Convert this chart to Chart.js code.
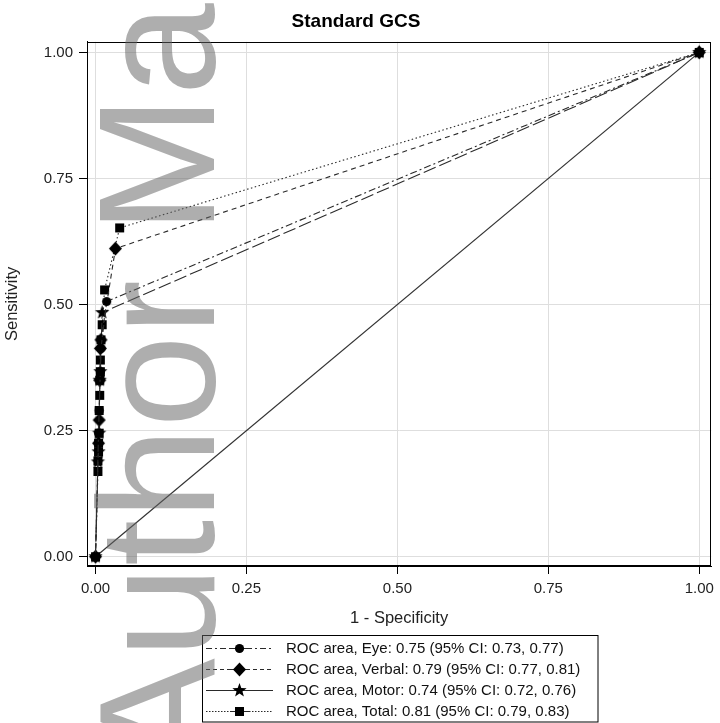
<!DOCTYPE html>
<html>
<head>
<meta charset="utf-8">
<script src="https://cdn.jsdelivr.net/npm/chart.js@4.4.1/dist/chart.umd.min.js"></script>
<style>
html,body{margin:0;padding:0;background:#fff;}
canvas{display:block;}
</style>
</head>
<body>
<canvas id="c" width="720" height="723"></canvas>
<script>
// ---- data ----
const xTicks = [0, 0.25, 0.5, 0.75, 1];
const yTicks = [0, 0.25, 0.5, 0.75, 1];
const seriesNames = ['Eye', 'Verbal', 'Motor', 'Total'];
const aucValues = [0.75, 0.79, 0.74, 0.81];
const ciLow = [0.73, 0.77, 0.72, 0.79];
const ciHigh = [0.77, 0.81, 0.76, 0.83];

const eyeFpr = [0, 0.005, 0.006, 0.008, 0.009, 0.0185, 1];
const eyeTpr = [0, 0.245, 0.29, 0.367, 0.413, 0.506, 1];
const verbalFpr = [0, 0.005, 0.006, 0.007, 0.008, 0.009, 0.033, 1];
const verbalTpr = [0, 0.225, 0.271, 0.35, 0.413, 0.43, 0.611, 1];
const motorFpr = [0, 0.004, 0.005, 0.006, 0.007, 0.008, 0.011, 1];
const motorTpr = [0, 0.188, 0.208, 0.245, 0.35, 0.367, 0.484, 1];
const totalFpr = [0, 0.004, 0.004, 0.005, 0.005, 0.006, 0.006, 0.007, 0.007, 0.008, 0.008, 0.009, 0.011, 0.015, 0.040, 1];
const totalTpr = [0, 0.169, 0.19, 0.208, 0.225, 0.245, 0.29, 0.32, 0.35, 0.367, 0.39, 0.43, 0.46, 0.529, 0.652, 1];
const refFpr = [0, 1];
const refTpr = [0, 1];

// ---- styling ----
const FONT = '"Liberation Sans", Arial, sans-serif';
const LINE = '#2a2a2a';

function marker(type) {
  const c = document.createElement('canvas');
  c.width = 17; c.height = 17;
  const g = c.getContext('2d');
  g.fillStyle = '#000';
  g.translate(8.5, 8.5);
  g.beginPath();
  if (type === 'circle') g.arc(0, 0, 4.6, 0, 2 * Math.PI);
  else if (type === 'square') g.rect(-4.5, -4.5, 9, 9);
  else if (type === 'diamond') { g.moveTo(0, -7); g.lineTo(6.5, 0); g.lineTo(0, 7); g.lineTo(-6.5, 0); g.closePath(); }
  else if (type === 'star') {
    for (let i = 0; i < 10; i++) {
      const r = i % 2 ? 3.1 : 7.5;
      const a = -Math.PI / 2 + i * Math.PI / 5;
      g.lineTo(r * Math.cos(a), r * Math.sin(a));
    }
    g.closePath();
  }
  g.fill();
  return c;
}

const markerTypes = ['circle', 'diamond', 'star', 'square'];
const markers = markerTypes.map(marker);
const dashes = [[7, 3, 2, 3], [5, 4], [13, 4], [1.5, 2.5]];
const legendDashes = [[6, 3, 2, 3], [4, 3], [], [1.5, 1.5]];

const toPts = (xs, ys) => xs.map((x, i) => ({x: x, y: ys[i]}));
const seriesX = [eyeFpr, verbalFpr, motorFpr, totalFpr];
const seriesY = [eyeTpr, verbalTpr, motorTpr, totalTpr];

const datasets = seriesNames.map((n, i) => ({
  label: 'ROC area, ' + n + ': ' + aucValues[i].toFixed(2) + ' (95% CI: ' + ciLow[i].toFixed(2) + ', ' + ciHigh[i].toFixed(2) + ')',
  data: toPts(seriesX[i], seriesY[i]),
  showLine: true,
  borderColor: LINE,
  borderWidth: 1.1,
  borderDash: dashes[i],
  pointStyle: markers[i],
  pointRadius: 5,
  backgroundColor: '#000',
  _legendDash: legendDashes[i],
  _marker: markers[i]
}));
datasets.push({
  label: '',
  data: toPts(refFpr, refTpr),
  showLine: true,
  borderColor: '#333',
  borderWidth: 1.2,
  pointRadius: 0
});

const framePlugin = {
  id: 'frame',
  afterDraw(chart) {
    const a = chart.chartArea, ctx = chart.ctx;
    ctx.save();
    ctx.strokeStyle = '#000';
    ctx.lineWidth = 1;
    ctx.strokeRect(Math.round(a.left) + 0.5, Math.round(a.top) + 0.5, Math.round(a.right - a.left) - 1, Math.round(a.bottom - a.top) - 1);
    ctx.restore();
  }
};

const legendPlugin = {
  id: 'boxLegend',
  afterDraw(chart) {
    const ctx = chart.ctx;
    ctx.save();
    ctx.strokeStyle = '#000';
    ctx.lineWidth = 1;
    ctx.strokeRect(202.5, 635.5, 395.5, 86.5);
    const items = chart.data.datasets.filter(d => d.label);
    items.forEach((d, i) => {
      const y = 648.5 + i * 21;
      ctx.strokeStyle = LINE;
      ctx.lineWidth = 1;
      ctx.setLineDash(d._legendDash);
      ctx.beginPath();
      ctx.moveTo(206, y); ctx.lineTo(233, y);
      ctx.moveTo(246, y); ctx.lineTo(273, y);
      ctx.stroke();
      ctx.setLineDash([]);
      ctx.beginPath(); ctx.moveTo(230, y); ctx.lineTo(249, y); ctx.stroke();
      ctx.drawImage(d._marker, 239.5 - 8.5, y - 8.5);
      ctx.fillStyle = '#111';
      ctx.font = '15px ' + FONT;
      ctx.textBaseline = 'middle';
      ctx.textAlign = 'left';
      ctx.fillText(d.label, 286, y + 0.5);
    });
    ctx.restore();
  }
};

const watermarkPlugin = {
  id: 'watermark',
  afterDraw(chart) {
    const ctx = chart.ctx;
    ctx.save();
    ctx.translate(214, 769);
    ctx.rotate(-Math.PI / 2);
    ctx.font = '166px ' + FONT;
    ctx.fillStyle = 'rgba(100,100,100,0.52)';
    ctx.textBaseline = 'alphabetic';
    ctx.textAlign = 'left';
    ctx.fillText('Author Manuscript', 0, 0);
    ctx.restore();
  }
};

new Chart(document.getElementById('c'), {
  type: 'scatter',
  data: {datasets: datasets},
  options: {
    responsive: false,
    animation: false,
    layout: {padding: {left: 0, right: 8, top: 0, bottom: 95}},
    plugins: {
      legend: {display: false},
      tooltip: {enabled: false},
      title: {
        display: true,
        text: 'Standard GCS',
        color: '#000',
        font: {family: FONT, size: 19, weight: 'bold'},
        padding: {top: 10, bottom: 9}
      }
    },
    scales: {
      x: {
        type: 'linear',
        min: -0.0141,
        max: 1.0199,
        afterBuildTicks: s => { s.ticks = xTicks.map(v => ({value: v})); },
        afterFit: s => { s.height = 62; },
        ticks: {
          callback: v => Number(v).toFixed(2),
          font: {family: FONT, size: 15},
          color: '#222',
          padding: 6,
          maxRotation: 0,
          autoSkip: false
        },
        grid: {color: '#dedede', tickColor: '#000', tickLength: 8, lineWidth: 1},
        border: {color: '#000', width: 1},
        title: {display: true, text: '1 - Specificity', color: '#222', font: {family: FONT, size: 16.5}, padding: {top: 0, bottom: 0}}
      },
      y: {
        type: 'linear',
        min: -0.0184,
        max: 1.021,
        afterBuildTicks: s => { s.ticks = yTicks.map(v => ({value: v})); },
        afterFit: s => { s.width = 87; },
        ticks: {
          callback: v => Number(v).toFixed(2),
          font: {family: FONT, size: 15},
          color: '#222',
          padding: 6,
          autoSkip: false
        },
        grid: {color: '#dedede', tickColor: '#000', tickLength: 8, lineWidth: 1},
        border: {color: '#000', width: 1},
        title: {display: true, text: 'Sensitivity', color: '#222', font: {family: FONT, size: 16.5}, padding: {top: 3, bottom: 0}}
      }
    }
  },
  plugins: [framePlugin, legendPlugin, watermarkPlugin]
});
</script>
</body>
</html>
